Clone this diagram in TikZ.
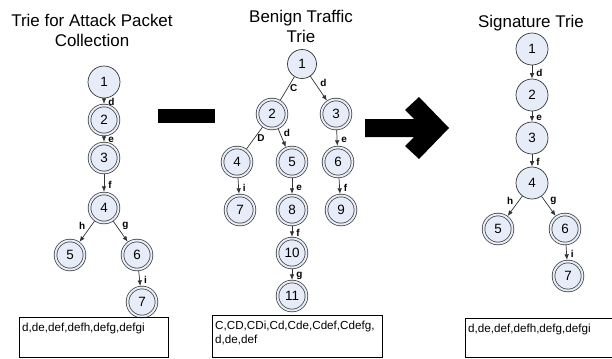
\documentclass[tikz,border=0pt]{standalone}
\usepackage{fontspec}
\setmainfont{Liberation Sans}
\usetikzlibrary{arrows.meta}
\definecolor{trfill}{RGB}{231,237,248}
\definecolor{trline}{RGB}{50,50,50}

\tikzset{
  trnode/.style={circle, draw=trline, line width=0.7bp, fill=trfill, minimum size=32bp, inner sep=0pt, font=\fontsize{13.5}{16}\selectfont},
  acc/.style={trnode, minimum size=29bp, double=trfill, double distance=2bp, outer sep=1.7bp},
  trans/.style={draw=trline, line width=0.7bp, -{Latex[length=5.5bp,width=4.5bp]}},
  plainlink/.style={draw=trline, line width=0.7bp},
  lbl/.style={font=\fontsize{10}{12}\selectfont\bfseries, inner sep=1.5bp},
  ttl/.style={font=\fontsize{17}{20}\selectfont, align=center},
  listbox/.style={draw=black, line width=0.8bp, anchor=north west, inner sep=0pt},
  listtxt/.style={font=\fontsize{11.7}{14}\selectfont, anchor=north west, inner sep=0pt, align=left}
}

\begin{document}
\begin{tikzpicture}[x=1bp, y=-1bp]
\useasboundingbox (0,0) rectangle (612,358);
% ---- Part 1: attack packet trie
\node[ttl] (Ltitle) at (92,30) {Trie for Attack Packet\\Collection};
\node[trnode] (L1) at (104,82) {1};
\node[acc] (L2) at (104,120) {2};
\node[acc] (L3) at (104,158) {3};
\node[acc] (L4) at (104,208) {4};
\node[acc] (L5) at (70,255) {5};
\node[acc] (L6) at (137,255) {6};
\node[acc] (L7) at (142,302) {7};
\foreach \a/\b/\t in {L1/L2/d, L2/L3/e, L3/L4/f, L6/L7/i}
  {\draw[trans] (\a) -- node[lbl, right=2.5bp, pos=0.6]{\t} (\b);}
\draw[trans] (L4) -- node[lbl, above left]{h} (L5);
\draw[trans] (L4) -- node[lbl, above right]{g} (L6);
\node[listbox, minimum width=149bp, minimum height=40bp] (Lbox) at (19,317) {};
\node[listtxt] (Ltxt) at ([shift={(3,6)}]Lbox.north west) {d,de,def,defh,defg,defgi};

% ---- minus sign
\fill[black] (158,109) rectangle (215,123);

% ---- Part 2: benign traffic trie
\node[ttl] (Mtitle) at (301,26) {Benign Traffic\\Trie};
\node[trnode, minimum size=29bp] (M1) at (302,64) {1};
\node[acc] (M2) at (272,114) {2};
\node[acc] (M3) at (336,114) {3};
\node[acc] (M4) at (237,162) {4};
\node[acc] (M5) at (292,162) {5};
\node[acc] (M6) at (338,162) {6};
\node[acc] (M7) at (240,210) {7};
\node[acc] (M8) at (292,210) {8};
\node[acc] (M9) at (341,210) {9};
\node[acc] (M10) at (292,253) {10};
\node[acc] (M11) at (292,296) {11};
\draw[plainlink] (M1) -- node[lbl, right=1bp]{C} (M2);
\draw[plainlink] (M2) -- node[lbl, right=1bp]{D} (M4);
\draw[trans] (M1) -- node[lbl, above right]{d} (M3);
\draw[trans] (M2) -- node[lbl, above right]{d} (M5);
\foreach \a/\b/\t in {M3/M6/e, M4/M7/i, M5/M8/e, M6/M9/f, M8/M10/f, M10/M11/g}
  {\draw[trans] (\a) -- node[lbl, right=2.5bp, pos=0.6]{\t} (\b);}
\node[listbox, minimum width=170bp, minimum height=42bp] (Mbox) at (212,315) {};
\node[listtxt] (Mtxt) at ([shift={(3,6)}]Mbox.north west) {C,CD,CDi,Cd,Cde,Cdef,Cdefg,\\d,de,def};

% ---- arrow
\fill[black] (365,119) -- (414,119) -- (405,110) -- (419,97) -- (449,128)
  -- (419,159) -- (405,146) -- (414,137) -- (365,137) -- cycle;

% ---- Part 3: signature trie
\node[ttl] (Rtitle) at (531,23) {Signature Trie};
\node[trnode] (R1) at (532,49) {1};
\node[trnode] (R2) at (532,95) {2};
\node[trnode] (R3) at (532,138) {3};
\node[trnode] (R4) at (532,183) {4};
\node[acc] (R5) at (498,229) {5};
\node[acc] (R6) at (565,229) {6};
\node[acc] (R7) at (568,276) {7};
\foreach \a/\b/\t in {R1/R2/d, R2/R3/e, R3/R4/f, R6/R7/i}
  {\draw[trans] (\a) -- node[lbl, right=2.5bp, pos=0.6]{\t} (\b);}
\draw[trans] (R4) -- node[lbl, above left]{h} (R5);
\draw[trans] (R4) -- node[lbl, above right]{g} (R6);
\node[listbox, minimum width=146.6bp, minimum height=39bp] (Rbox) at (465,318) {};
\node[listtxt] (Rtxt) at ([shift={(3,6)}]Rbox.north west) {d,de,def,defh,defg,defgi};
\end{tikzpicture}
\end{document}
